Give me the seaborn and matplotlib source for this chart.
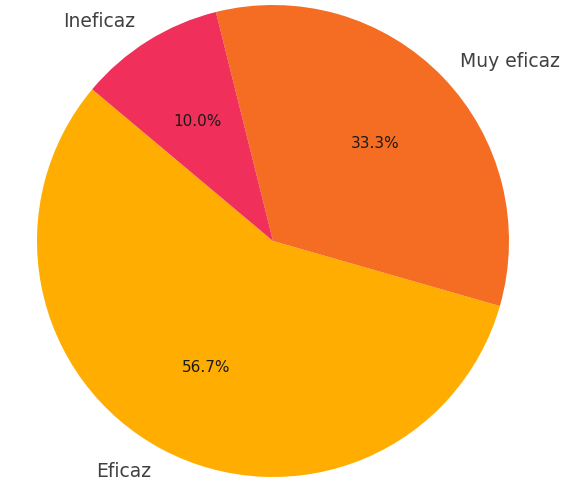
import matplotlib
matplotlib.use("Agg")
import matplotlib.pyplot as plt
import seaborn as sns

# datos de la encuesta
labels = ['Eficaz', 'Muy eficaz', 'Ineficaz']
counts = [17, 10, 3]
colors = ['#ffad00', '#f46d22', '#f0305a']

sns.set_theme(style="white")
plt.rcParams['font.family'] = ['DejaVu Sans']

fig = plt.figure(figsize=(5.63, 4.85), dpi=100)
W, H = 563, 485
cx, cy, r = 273, 242, 236
ax = fig.add_axes([(cx - r) / W, (H - cy - r) / H, 2 * r / W, 2 * r / H])

wedges, texts, autotexts = ax.pie(
    counts,
    labels=labels,
    colors=sns.color_palette(colors),
    autopct='%1.1f%%',
    startangle=140,
    wedgeprops={'linewidth': 0},
    textprops={'fontsize': 13.5, 'color': '.25'},
)
for t in autotexts:
    t.set_fontsize(11)
    t.set_color('.1')

ax.set_xlim(-1, 1)
ax.set_ylim(-1, 1)
ax.set_aspect('equal')

fig.savefig('out.png', dpi=100)
